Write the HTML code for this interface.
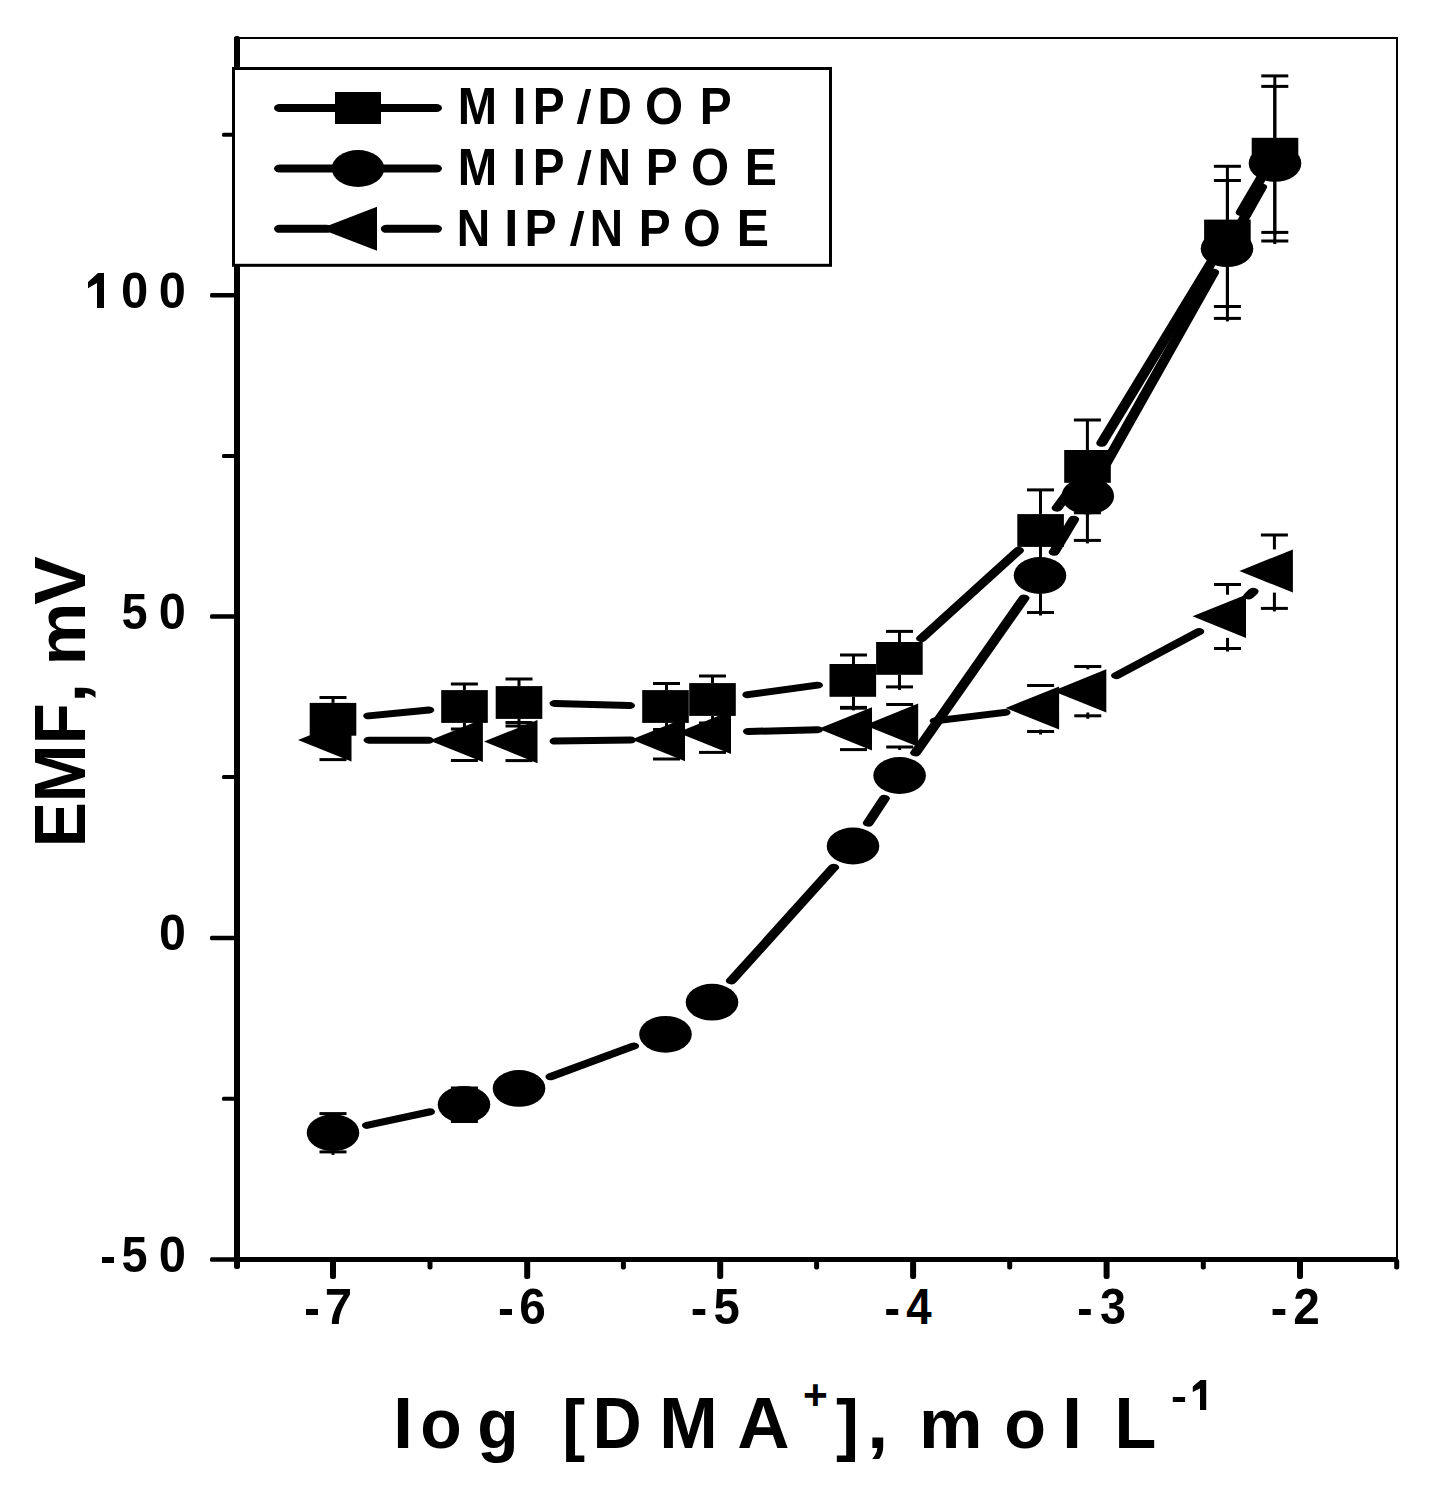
<!DOCTYPE html>
<html><head><meta charset="utf-8"><title>EMF vs log [DMA+]</title>
<style>html,body{margin:0;padding:0;background:#fff;}svg{display:block;}
text{font-family:"Liberation Sans",sans-serif;font-weight:bold;fill:#000;}</style></head>
<body>
<svg width="1437" height="1499" viewBox="0 0 1437 1499" font-family="Liberation Sans, sans-serif" font-weight="bold">
<rect x="234" y="37" width="1164" height="2"/>
<rect x="1396" y="37" width="2" height="1225"/>
<rect x="234" y="36" width="6" height="1233" rx="2.5"/>
<rect x="234" y="1257" width="1164" height="5"/>
<rect x="210" y="293.05" width="26" height="4.5" rx="1.5"/>
<rect x="210" y="614.15" width="26" height="4.5" rx="1.5"/>
<rect x="210" y="935.65" width="26" height="4.5" rx="1.5"/>
<rect x="210" y="1257.25" width="26" height="4.5" rx="1.5"/>
<rect x="222" y="132.70" width="14" height="4" rx="1.5"/>
<rect x="222" y="453.90" width="14" height="4" rx="1.5"/>
<rect x="222" y="775.10" width="14" height="4" rx="1.5"/>
<rect x="222" y="1096.70" width="14" height="4" rx="1.5"/>
<rect x="330.00" y="1259" width="6" height="20" rx="2.5"/>
<rect x="524.20" y="1259" width="6" height="20" rx="2.5"/>
<rect x="717.20" y="1259" width="6" height="20" rx="2.5"/>
<rect x="910.10" y="1259" width="6" height="20" rx="2.5"/>
<rect x="1103.60" y="1259" width="6" height="20" rx="2.5"/>
<rect x="1297.00" y="1259" width="6" height="20" rx="2.5"/>
<rect x="427.50" y="1259" width="5" height="10.5" rx="2"/>
<rect x="620.90" y="1259" width="5" height="10.5" rx="2"/>
<rect x="814.10" y="1259" width="5" height="10.5" rx="2"/>
<rect x="1007.20" y="1259" width="5" height="10.5" rx="2"/>
<rect x="1200.80" y="1259" width="5" height="10.5" rx="2"/>
<rect x="1394.20" y="1259" width="5" height="10.5" rx="2"/>
<path d="M104,273 L104,308 L97,308 L97,283 L88,288.3 L88,282 L98,273 Z"/>
<text transform="translate(120.96,308.00) scale(0.9798,1.0100)" font-size="50">0</text>
<text transform="translate(158.87,308.00) scale(0.9756,1.0100)" font-size="50">0</text>
<text transform="translate(121.46,628.60) scale(0.9366,1.0100)" font-size="50">5</text>
<text transform="translate(158.87,628.60) scale(0.9756,1.0100)" font-size="50">0</text>
<text transform="translate(158.99,950.40) scale(0.9672,1.0100)" font-size="50">0</text>
<rect x="102" y="1257" width="12" height="6"/>
<text transform="translate(121.46,1271.60) scale(0.9366,1.0100)" font-size="50">5</text>
<text transform="translate(158.76,1271.60) scale(0.9798,1.0100)" font-size="50">0</text>
<rect x="306" y="1309" width="12.0" height="6"/>
<text transform="translate(324.78,1323.80) scale(0.9846,1.0100)" font-size="50">7</text>
<rect x="499.9" y="1309" width="12.1" height="6"/>
<text transform="translate(519.15,1323.80) scale(0.9557,1.0100)" font-size="50">6</text>
<rect x="692.7" y="1309" width="12.6" height="6"/>
<text transform="translate(713.55,1323.80) scale(0.9446,1.0100)" font-size="50">5</text>
<rect x="886.2" y="1309" width="12.0" height="6"/>
<text transform="translate(906.31,1323.80) scale(0.9111,1.0100)" font-size="50">4</text>
<rect x="1079" y="1309" width="11.8" height="6"/>
<text transform="translate(1100.03,1323.80) scale(0.9335,1.0100)" font-size="50">3</text>
<rect x="1272.6" y="1309" width="12.7" height="6"/>
<text transform="translate(1293.24,1323.80) scale(0.9555,1.0100)" font-size="50">2</text>
<text transform="translate(392.71,1448.00) scale(1.0545,0.9700)" font-size="70.5">l</text>
<text transform="translate(420.35,1448.00) scale(0.9639,0.9900)" font-size="70.5">o</text>
<text transform="translate(477.22,1448.00) scale(0.9617,0.9900)" font-size="70.5">g</text>
<text transform="translate(562.14,1448.00) scale(0.9755,0.9700)" font-size="70.5">[</text>
<text transform="translate(592.54,1448.00) scale(0.9668,1.0300)" font-size="70.5">D</text>
<text transform="translate(659.20,1448.00) scale(0.9960,1.0300)" font-size="70.5">M</text>
<text transform="translate(737.30,1448.00) scale(1.0275,1.0300)" font-size="70.5">A</text>
<text transform="translate(836.06,1448.00) scale(0.9755,0.9700)" font-size="70.5">]</text>
<text transform="translate(866.88,1448.00) scale(1.0906,0.9900)" font-size="70.5">,</text>
<text transform="translate(918.89,1448.00) scale(1.0137,0.9900)" font-size="70.5">m</text>
<text transform="translate(1004.23,1448.00) scale(0.9692,0.9900)" font-size="70.5">o</text>
<text transform="translate(1061.71,1448.00) scale(1.0545,0.9700)" font-size="70.5">l</text>
<text transform="translate(1114.42,1448.00) scale(0.9702,1.0300)" font-size="70.5">L</text>
<text transform="translate(803.12,1409.30) scale(0.9878,0.9700)" font-size="43">+</text>
<rect x="1172.8" y="1397" width="12.3" height="5"/>
<path d="M1206.2,1380 L1206.2,1410 L1200,1410 L1200,1388.5 L1192.8,1392 L1192.8,1386.6 L1200.5,1380 Z"/>
<g transform="translate(85,0) rotate(-90)"><text transform="translate(-847.33,0.00) scale(0.9607,1.0300)" font-size="70.5">E</text>
<text transform="translate(-802.47,0.00) scale(0.9900,1.0300)" font-size="70.5">M</text>
<text transform="translate(-744.28,0.00) scale(0.9506,1.0300)" font-size="70.5">F</text>
<text transform="translate(-702.84,0.00) scale(1.0113,0.9850)" font-size="70.5">,</text>
<text transform="translate(-665.57,0.00) scale(1.0043,0.9850)" font-size="70.5">m</text>
<text transform="translate(-604.70,0.00) scale(1.0291,1.0300)" font-size="70.5">V</text></g>
<g transform="scale(1.5500,1)" stroke="#000" stroke-width="7.00" stroke-linecap="round" fill="none"><line x1="237.80" y1="715.84" x2="276.72" y2="709.96"/>
<line x1="358.00" y1="703.48" x2="406.19" y2="705.52"/>
<line x1="482.43" y1="694.70" x2="527.44" y2="685.20"/>
<line x1="594.48" y1="638.43" x2="657.13" y2="550.47"/>
<line x1="681.97" y1="508.01" x2="691.00" y2="488.89"/>
<line x1="710.73" y1="443.14" x2="782.76" y2="259.26"/>
<line x1="800.66" y1="212.59" x2="813.79" y2="177.61"/>
<line x1="237.00" y1="1125.30" x2="277.19" y2="1111.90"/>
<line x1="355.37" y1="1076.65" x2="408.83" y2="1046.05"/>
<line x1="471.79" y1="980.85" x2="537.89" y2="867.35"/>
<line x1="560.10" y1="823.06" x2="570.61" y2="798.44"/>
<line x1="590.66" y1="752.82" x2="660.70" y2="598.18"/>
<line x1="680.01" y1="552.20" x2="692.77" y2="519.30"/>
<line x1="710.35" y1="472.48" x2="783.07" y2="272.22"/>
<line x1="800.15" y1="225.18" x2="814.04" y2="186.92"/>
<line x1="238.02" y1="740.14" x2="276.44" y2="740.36"/>
<line x1="358.01" y1="741.11" x2="406.83" y2="740.09"/>
<line x1="482.84" y1="731.48" x2="527.48" y2="729.72"/>
<line x1="603.29" y1="720.88" x2="648.52" y2="712.32"/>
<line x1="720.28" y1="675.61" x2="773.47" y2="631.59"/>
<line x1="805.59" y1="595.86" x2="808.54" y2="591.44"/></g>
<rect x="331.50" y="697.50" width="3" height="5.40"/>
<rect x="331.50" y="735.70" width="3" height="8.30"/>
<rect x="319.50" y="696.00" width="27" height="3"/>
<rect x="319.50" y="739.50" width="27" height="3"/>
<rect x="462.90" y="684.00" width="3" height="6.10"/>
<rect x="462.90" y="722.90" width="3" height="9.10"/>
<rect x="450.90" y="682.50" width="27" height="3"/>
<rect x="450.90" y="727.50" width="27" height="3"/>
<rect x="517.50" y="679.00" width="3" height="7.10"/>
<rect x="517.50" y="718.90" width="3" height="10.10"/>
<rect x="505.50" y="677.50" width="27" height="3"/>
<rect x="505.50" y="724.50" width="27" height="3"/>
<rect x="665.00" y="683.50" width="3" height="6.60"/>
<rect x="665.00" y="722.90" width="3" height="9.60"/>
<rect x="653.00" y="682.00" width="27" height="3"/>
<rect x="653.00" y="728.00" width="27" height="3"/>
<rect x="711.00" y="676.00" width="3" height="7.10"/>
<rect x="711.00" y="715.90" width="3" height="10.10"/>
<rect x="699.00" y="674.50" width="27" height="3"/>
<rect x="699.00" y="721.50" width="27" height="3"/>
<rect x="852.00" y="655.00" width="3" height="9.00"/>
<rect x="852.00" y="696.80" width="3" height="13.60"/>
<rect x="840.00" y="653.50" width="27" height="3"/>
<rect x="840.00" y="705.90" width="27" height="3"/>
<rect x="898.00" y="631.40" width="3" height="10.60"/>
<rect x="898.00" y="674.80" width="3" height="15.10"/>
<rect x="886.00" y="629.90" width="27" height="3"/>
<rect x="886.00" y="685.40" width="27" height="3"/>
<rect x="1039.00" y="489.90" width="3" height="24.20"/>
<rect x="1039.00" y="546.90" width="3" height="27.10"/>
<rect x="1027.00" y="488.40" width="27" height="3"/>
<rect x="1027.00" y="569.50" width="27" height="3"/>
<rect x="1085.90" y="420.00" width="3" height="30.00"/>
<rect x="1085.90" y="482.80" width="3" height="33.00"/>
<rect x="1073.90" y="418.50" width="27" height="3"/>
<rect x="1073.90" y="511.30" width="27" height="3"/>
<rect x="1225.90" y="166.30" width="3" height="53.30"/>
<rect x="1225.90" y="252.40" width="3" height="57.10"/>
<rect x="1213.90" y="164.80" width="27" height="3"/>
<rect x="1213.90" y="305.00" width="27" height="3"/>
<rect x="1273.30" y="75.90" width="3" height="61.90"/>
<rect x="1273.30" y="170.60" width="3" height="64.80"/>
<rect x="1261.30" y="74.40" width="27" height="3"/>
<rect x="1261.30" y="230.90" width="27" height="3"/>
<rect x="331.50" y="1113.60" width="3" height="0.70"/>
<rect x="331.50" y="1151.10" width="3" height="3.80"/>
<rect x="319.50" y="1112.10" width="27" height="3"/>
<rect x="319.50" y="1150.40" width="27" height="3"/>
<rect x="450.90" y="1086.50" width="27" height="3"/>
<rect x="450.90" y="1120.00" width="27" height="3"/>
<rect x="1039.00" y="538.50" width="3" height="18.60"/>
<rect x="1039.00" y="593.90" width="3" height="21.60"/>
<rect x="1027.00" y="537.00" width="27" height="3"/>
<rect x="1027.00" y="611.00" width="27" height="3"/>
<rect x="1085.90" y="451.60" width="3" height="26.00"/>
<rect x="1085.90" y="514.40" width="3" height="29.00"/>
<rect x="1073.90" y="450.10" width="27" height="3"/>
<rect x="1073.90" y="538.90" width="27" height="3"/>
<rect x="1225.90" y="180.50" width="3" height="49.80"/>
<rect x="1225.90" y="267.10" width="3" height="54.30"/>
<rect x="1213.90" y="179.00" width="27" height="3"/>
<rect x="1213.90" y="316.90" width="27" height="3"/>
<rect x="1273.30" y="86.40" width="3" height="58.60"/>
<rect x="1273.30" y="181.80" width="3" height="62.20"/>
<rect x="1261.30" y="84.90" width="27" height="3"/>
<rect x="1261.30" y="239.50" width="27" height="3"/>
<rect x="319.50" y="719.00" width="27" height="3"/>
<rect x="319.50" y="758.10" width="27" height="3"/>
<rect x="450.90" y="719.00" width="27" height="3"/>
<rect x="450.90" y="759.00" width="27" height="3"/>
<rect x="505.50" y="721.00" width="27" height="3"/>
<rect x="505.50" y="759.10" width="27" height="3"/>
<rect x="653.00" y="718.50" width="27" height="3"/>
<rect x="653.00" y="757.50" width="27" height="3"/>
<rect x="699.00" y="710.90" width="27" height="3"/>
<rect x="699.00" y="750.90" width="27" height="3"/>
<rect x="840.00" y="706.70" width="27" height="3"/>
<rect x="840.00" y="748.10" width="27" height="3"/>
<rect x="898.20" y="746.80" width="3" height="3.20"/>
<rect x="886.20" y="703.00" width="27" height="3"/>
<rect x="886.20" y="745.50" width="27" height="3"/>
<rect x="1039.10" y="685.50" width="3" height="0.90"/>
<rect x="1039.10" y="729.60" width="3" height="4.90"/>
<rect x="1027.10" y="684.00" width="27" height="3"/>
<rect x="1027.10" y="730.00" width="27" height="3"/>
<rect x="1086.30" y="666.50" width="3" height="2.80"/>
<rect x="1086.30" y="712.50" width="3" height="6.30"/>
<rect x="1074.30" y="665.00" width="27" height="3"/>
<rect x="1074.30" y="714.30" width="27" height="3"/>
<rect x="1226.00" y="584.50" width="3" height="10.20"/>
<rect x="1226.00" y="637.90" width="3" height="13.60"/>
<rect x="1214.00" y="583.00" width="27" height="3"/>
<rect x="1214.00" y="647.00" width="27" height="3"/>
<rect x="1272.90" y="535.00" width="3" height="14.40"/>
<rect x="1272.90" y="592.60" width="3" height="18.80"/>
<rect x="1260.90" y="533.50" width="27" height="3"/>
<rect x="1260.90" y="606.90" width="27" height="3"/>
<path d="M298.00,740.00 L351.50,718.40 L351.50,761.60 Z"/>
<path d="M429.40,740.50 L482.90,718.90 L482.90,762.10 Z"/>
<path d="M484.00,741.60 L537.50,720.00 L537.50,763.20 Z"/>
<path d="M631.50,739.60 L685.00,718.00 L685.00,761.20 Z"/>
<path d="M677.50,732.40 L731.00,710.80 L731.00,754.00 Z"/>
<path d="M818.50,728.80 L872.00,707.20 L872.00,750.40 Z"/>
<path d="M864.70,725.20 L918.20,703.60 L918.20,746.80 Z"/>
<path d="M1005.60,708.00 L1059.10,686.40 L1059.10,729.60 Z"/>
<path d="M1052.80,690.90 L1106.30,669.30 L1106.30,712.50 Z"/>
<path d="M1192.50,616.30 L1246.00,594.70 L1246.00,637.90 Z"/>
<path d="M1239.40,571.00 L1292.90,549.40 L1292.90,592.60 Z"/>
<rect x="309.70" y="702.90" width="46.6" height="32.8"/>
<rect x="441.20" y="690.10" width="46.6" height="32.8"/>
<rect x="495.70" y="686.10" width="46.6" height="32.8"/>
<rect x="642.20" y="690.10" width="46.6" height="32.8"/>
<rect x="689.20" y="683.10" width="46.6" height="32.8"/>
<rect x="829.50" y="664.00" width="46.6" height="32.8"/>
<rect x="876.10" y="642.00" width="46.6" height="32.8"/>
<rect x="1017.30" y="514.10" width="46.6" height="32.8"/>
<rect x="1064.20" y="450.00" width="46.6" height="32.8"/>
<rect x="1204.10" y="219.60" width="46.6" height="32.8"/>
<rect x="1251.70" y="137.80" width="46.6" height="32.8"/>
<ellipse cx="333.00" cy="1132.70" rx="26.3" ry="18.4"/>
<ellipse cx="464.00" cy="1104.50" rx="26.3" ry="18.4"/>
<ellipse cx="519.00" cy="1088.40" rx="26.3" ry="18.4"/>
<ellipse cx="665.50" cy="1034.30" rx="26.3" ry="18.4"/>
<ellipse cx="712.00" cy="1002.20" rx="26.3" ry="18.4"/>
<ellipse cx="853.00" cy="846.00" rx="26.3" ry="18.4"/>
<ellipse cx="899.60" cy="775.50" rx="26.3" ry="18.4"/>
<ellipse cx="1040.00" cy="575.50" rx="26.3" ry="18.4"/>
<ellipse cx="1087.80" cy="496.00" rx="26.3" ry="18.4"/>
<ellipse cx="1227.00" cy="248.70" rx="26.3" ry="18.4"/>
<ellipse cx="1275.00" cy="163.40" rx="26.3" ry="18.4"/>
<rect x="233.5" y="68.5" width="597" height="196.8" fill="#fff" stroke="#000" stroke-width="3"/>
<g transform="scale(1.42,1)"><line x1="196.96" y1="108" x2="235.44" y2="108" stroke="#000" stroke-width="8" stroke-linecap="round"/></g>
<g transform="scale(1.42,1)"><line x1="268.79" y1="108" x2="307.27" y2="108" stroke="#000" stroke-width="8" stroke-linecap="round"/></g>
<rect x="335" y="92" width="46" height="32"/>
<g transform="scale(1.42,1)"><line x1="196.96" y1="168.5" x2="307.27" y2="168.5" stroke="#000" stroke-width="8" stroke-linecap="round"/></g>
<ellipse cx="358" cy="168.5" rx="26.3" ry="18.5"/>
<g transform="scale(1.42,1)"><line x1="196.96" y1="228.8" x2="229.80" y2="228.8" stroke="#000" stroke-width="8" stroke-linecap="round"/></g>
<g transform="scale(1.42,1)"><line x1="272.17" y1="228.8" x2="307.27" y2="228.8" stroke="#000" stroke-width="8" stroke-linecap="round"/></g>
<path d="M320,228.8 L377,206.8 L377,250.8 Z"/>
<text transform="translate(457.84,124.00) scale(0.9254,1.0000)" font-size="51">M</text>
<text transform="translate(512.41,124.00) scale(0.9937,1.0000)" font-size="51">I</text>
<text transform="translate(532.70,124.00) scale(0.9390,1.0000)" font-size="51">P</text>
<text transform="translate(597.51,124.00) scale(0.9336,1.0000)" font-size="51">D</text>
<text transform="translate(644.89,124.00) scale(0.9623,1.0000)" font-size="51">O</text>
<text transform="translate(699.80,124.00) scale(0.9390,1.0000)" font-size="51">P</text>
<path d="M585.70,88.9 L591.10,88.9 L582.60,124 L576.80,124 Z"/>
<text transform="translate(457.73,185.00) scale(0.9282,1.0000)" font-size="51">M</text>
<text transform="translate(512.60,185.00) scale(0.9665,1.0000)" font-size="51">I</text>
<text transform="translate(532.81,185.00) scale(0.9355,1.0000)" font-size="51">P</text>
<text transform="translate(597.82,185.00) scale(0.9039,1.0000)" font-size="51">N</text>
<text transform="translate(645.70,185.00) scale(0.9390,1.0000)" font-size="51">P</text>
<text transform="translate(690.99,185.00) scale(0.9623,1.0000)" font-size="51">O</text>
<text transform="translate(744.77,185.00) scale(0.9471,1.0000)" font-size="51">E</text>
<path d="M586.10,150 L591.50,150 L583.00,185 L577.20,185 Z"/>
<text transform="translate(456.70,246.00) scale(0.9072,1.0000)" font-size="51">N</text>
<text transform="translate(504.31,246.00) scale(0.9937,1.0000)" font-size="51">I</text>
<text transform="translate(524.47,246.00) scale(0.9459,1.0000)" font-size="51">P</text>
<text transform="translate(589.72,246.00) scale(0.9039,1.0000)" font-size="51">N</text>
<text transform="translate(638.70,246.00) scale(0.9390,1.0000)" font-size="51">P</text>
<text transform="translate(683.01,246.00) scale(0.9510,1.0000)" font-size="51">O</text>
<text transform="translate(736.67,246.00) scale(0.9471,1.0000)" font-size="51">E</text>
<path d="M578.90,210.9 L584.30,210.9 L575.80,245.9 L570.00,245.9 Z"/>
</svg>
</body></html>
